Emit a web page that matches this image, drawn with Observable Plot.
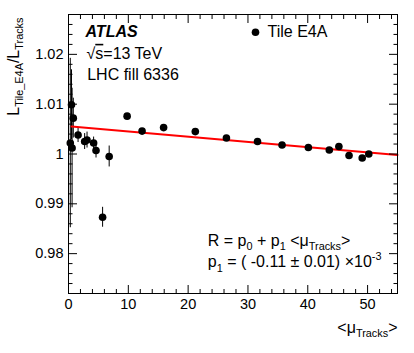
<!DOCTYPE html>
<html><head><meta charset="utf-8">
<script src="https://cdn.jsdelivr.net/npm/d3@7"></script>
<script src="https://cdn.jsdelivr.net/npm/@observablehq/plot@0.6"></script>
<style>
body{margin:0;background:#fff;}
#chart{width:414px;height:353px;}
</style></head><body><div id="chart"></div>
<script>
// ---- data ----
const mu    = [0.3, 0.5, 0.6, 0.8, 1.6, 2.7, 3.1, 4.2, 4.6, 5.7, 6.8, 9.8, 12.3, 15.9, 21.2, 26.4, 31.6, 35.7, 40.1, 43.6, 45.2, 46.9, 49.1, 50.2];
const ratio = [1.0022, 1.0099, 1.0012, 1.0072, 1.0038, 1.0025, 1.0028, 1.0022, 1.0007, 0.9873, 0.9995, 1.0076, 1.0046, 1.0053, 1.0045, 1.0032, 1.0025, 1.0018, 1.0013, 1.0008, 1.0015, 0.9997, 0.9992, 1.0000];
const err   = [0.0170, 0.0070, 0.0120, 0.0040, 0.0015, 0.0016, 0.0016, 0.0012, 0.0015, 0.0020, 0.0021, 0.0005, 0.0005, 0.0005, 0.0005, 0.0005, 0.0005, 0.0005, 0.0005, 0.0005, 0.0005, 0.0005, 0.0005, 0.0005];
const fitMu    = [0.5, 55];
const fitRatio = [1.0055, 0.9998];
const xTicks = [0, 10, 20, 30, 40, 50];
const xTickLabels = ["0", "10", "20", "30", "40", "50"];
const xMinor = [2,4,6,8,12,14,16,18,22,24,26,28,32,34,36,38,42,44,46,48,52,54];
const yTicks = [0.98, 0.99, 1.00, 1.01, 1.02];
const yTickLabels = ["0.98", "0.99", "1", "1.01", "1.02"];
const yMinor = [0.972,0.974,0.976,0.978,0.982,0.984,0.986,0.988,0.992,0.994,0.996,0.998,1.002,1.004,1.006,1.008,1.012,1.014,1.016,1.018,1.022,1.024,1.026,1.028];
const legendLabel = "Tile E4A";
const infoLines = ["√~{s}=13 TeV", "LHC fill 6336"];
const experiment = "ATLAS";
const fitLines = ["R = p_{0} + p_{1} <μ_{Tracks}>", "p_{1} = ( -0.11 ± 0.01) ×10^{-3}"];
const xLabel = "<μ_{Tracks}>";
const yLabel = "L_{Tile_E4A}/L_{Tracks}";

const points = mu.map((m, i) => ({mu: m, r: ratio[i], lo: ratio[i] - err[i], hi: ratio[i] + err[i]}));
const fit = fitMu.map((m, i) => ({mu: m, r: fitRatio[i]}));
const xLab = new Map(xTicks.map((t, i) => [t, xTickLabels[i]]));
const yLab = new Map(yTicks.map((t, i) => [t, yTickLabels[i]]));
const FONT = "Liberation Sans, Arial, Helvetica, sans-serif";

const blank = () => "";
const chart = Plot.plot({
  width: 414, height: 353,
  marginLeft: 68, marginRight: 17, marginTop: 14, marginBottom: 60,
  style: {fontFamily: FONT, fontSize: "14.5px", background: "#fff", color: "#000"},
  x: {domain: [0, 55], axis: null},
  y: {domain: [0.972, 1.028], axis: null},
  marks: [
    Plot.ruleX(points, {x: "mu", y1: "lo", y2: "hi", stroke: "#000", strokeWidth: 1, clip: true}),
    Plot.line(fit, {x: "mu", y: "r", stroke: "#ff0000", strokeWidth: 2}),
    Plot.dot(points, {x: "mu", y: "r", r: 3.8, fill: "#000", stroke: "none"}),
    // inward ticks on all four sides
    Plot.axisX(xTicks, {anchor: "bottom", tickSize: -8, tickFormat: blank, label: null}),
    Plot.axisX(xMinor, {anchor: "bottom", tickSize: -4, tickFormat: blank, label: null}),
    Plot.axisX(xTicks, {anchor: "top", tickSize: -8, tickFormat: blank, label: null}),
    Plot.axisX(xMinor, {anchor: "top", tickSize: -4, tickFormat: blank, label: null}),
    Plot.axisY(yTicks, {anchor: "left", tickSize: -9, tickFormat: blank, label: null}),
    Plot.axisY(yMinor, {anchor: "left", tickSize: -4.5, tickFormat: blank, label: null}),
    Plot.axisY(yTicks, {anchor: "right", tickSize: -9, tickFormat: blank, label: null}),
    Plot.axisY(yMinor, {anchor: "right", tickSize: -4.5, tickFormat: blank, label: null}),
    // tick labels
    Plot.axisX(xTicks, {anchor: "bottom", tickSize: 0, tickPadding: 5, tickFormat: d => xLab.get(d), label: null, fontSize: 14.5}),
    Plot.axisY(yTicks, {anchor: "left", tickSize: 0, tickPadding: 5, tickFormat: d => yLab.get(d), label: null, fontSize: 14.5}),
    Plot.frame({stroke: "#000", strokeWidth: 1}),
    // annotations
    Plot.text([experiment], {text: d => d, frameAnchor: "top-left", dx: 17, dy: 22.7, textAnchor: "start", lineAnchor: "bottom", fontSize: 16, fontWeight: "bold", fontStyle: "italic"}),
    Plot.text([infoLines[0]], {text: d => d, frameAnchor: "top-left", dx: 18, dy: 44.3, textAnchor: "start", lineAnchor: "bottom", fontSize: 16}),
    Plot.text([infoLines[1]], {text: d => d, frameAnchor: "top-left", dx: 18.7, dy: 65.3, textAnchor: "start", lineAnchor: "bottom", fontSize: 16}),
    Plot.dot([legendLabel], {frameAnchor: "top-left", dx: 187, dy: 17.7, r: 3.8, fill: "#000", stroke: "none"}),
    Plot.text([legendLabel], {text: d => d, frameAnchor: "top-left", dx: 199, dy: 22.7, textAnchor: "start", lineAnchor: "bottom", fontSize: 16}),
    Plot.text([fitLines[0]], {text: d => d, frameAnchor: "top-left", dx: 139.3, dy: 231, textAnchor: "start", lineAnchor: "bottom", fontSize: 16}),
    Plot.text([fitLines[1]], {text: d => d, frameAnchor: "top-left", dx: 139.3, dy: 252.7, textAnchor: "start", lineAnchor: "bottom", fontSize: 16}),
    Plot.text([xLabel], {text: d => d, frameAnchor: "bottom-right", dx: 0, dy: 39, textAnchor: "end", lineAnchor: "bottom", fontSize: 16}),
    Plot.text([yLabel], {text: d => d, frameAnchor: "top-left", dx: -50, dy: 3, rotate: -90, textAnchor: "end", lineAnchor: "bottom", fontSize: 16})
  ]
});

// rich text: _{sub}, ^{sup}, ~{overline}
function richify(svg) {
  d3.select(svg).selectAll("text").each(function() {
    const el = this;
    const s = el.textContent;
    if (!/[_^~]\{/.test(s)) return;
    const fs = parseFloat(el.getAttribute("font-size")) || parseFloat(getComputedStyle(el).fontSize) || 16;
    const parts = [];
    const re = /([_^~])\{([^}]*)\}/g;
    let last = 0, m;
    while ((m = re.exec(s))) {
      if (m.index > last) parts.push({t: s.slice(last, m.index), k: ""});
      parts.push({t: m[2], k: m[1]});
      last = re.lastIndex;
    }
    if (last < s.length) parts.push({t: s.slice(last), k: ""});
    const target = el.querySelector("tspan") || el;
    target.textContent = "";
    const sel = d3.select(target);
    let cur = 0;
    for (const p of parts) {
      const shift = p.k === "_" ? 0.3 * fs : p.k === "^" ? -0.42 * fs : 0;
      const ts = sel.append("tspan").text(p.t);
      if (shift - cur) ts.attr("dy", (shift - cur) + "px");
      cur = shift;
      if (p.k === "_" || p.k === "^") ts.attr("font-size", (0.68 * fs) + "px");
      if (p.k === "~") ts.attr("text-decoration", "overline");
    }
  });
}
document.getElementById("chart").append(chart);
richify(chart);
</script>
</body></html>
